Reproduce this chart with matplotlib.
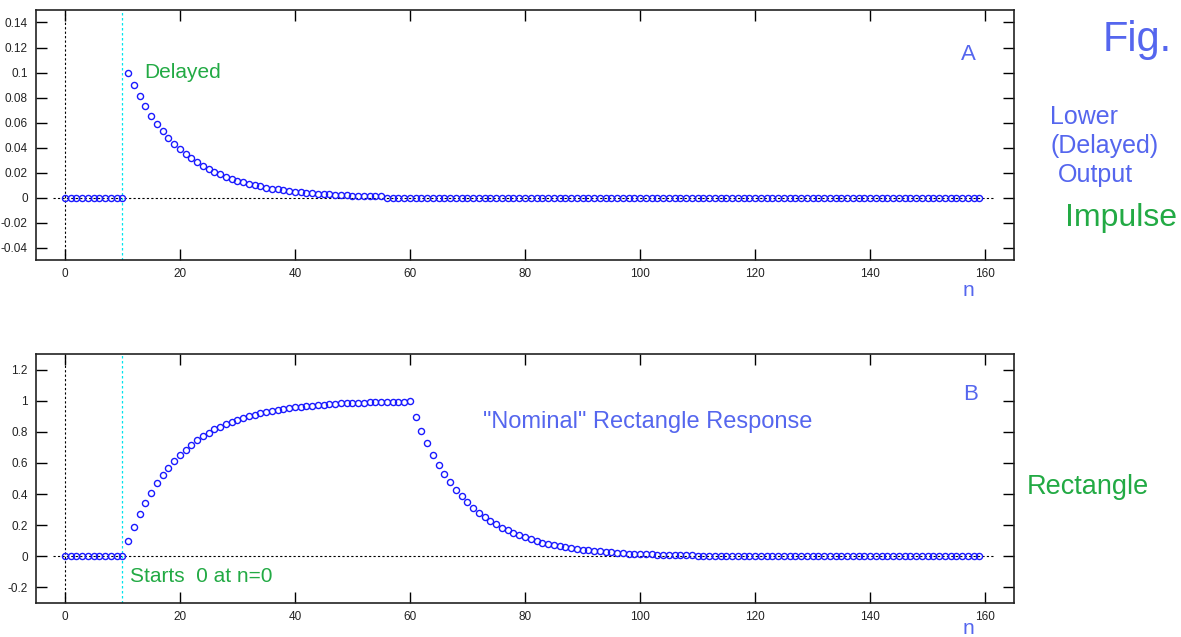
import matplotlib.pyplot as plt
import numpy as np

plt.rcParams['font.family'] = ['Liberation Sans', 'DejaVu Sans']

# sample index
n = np.arange(160)

# A: delayed impulse response (zero until n=10, then decays)
impulse_head = [0.0] * 11
impulse_decay = [0.1, 0.09, 0.081, 0.0729, 0.0656, 0.0590, 0.0531, 0.0478, 0.0430, 0.0387,
                 0.0349, 0.0314, 0.0282, 0.0254, 0.0229, 0.0206, 0.0185, 0.0167, 0.0150, 0.0135,
                 0.0122, 0.0109, 0.0098, 0.0089, 0.0080, 0.0072, 0.0065, 0.0058, 0.0052, 0.0047,
                 0.0042, 0.0038, 0.0034, 0.0031, 0.0028, 0.0025, 0.0023, 0.0020, 0.0018, 0.0016,
                 0.0015, 0.0013, 0.0012, 0.0011, 0.0010]
impulse_tail = [0.0] * 104
impulse = impulse_head + impulse_decay + impulse_tail

# B: delayed rectangle response
rect_head = [0.0] * 11
rect_rise = [0.1, 0.19, 0.271, 0.344, 0.410, 0.469, 0.522, 0.570, 0.613, 0.651,
             0.686, 0.718, 0.746, 0.771, 0.794, 0.815, 0.833, 0.850, 0.865, 0.878,
             0.891, 0.902, 0.911, 0.920, 0.928, 0.935, 0.942, 0.948, 0.953, 0.958,
             0.962, 0.966, 0.969, 0.972, 0.975, 0.977, 0.980, 0.982, 0.984, 0.985,
             0.987, 0.988, 0.989, 0.990, 0.991, 0.992, 0.993, 0.994, 0.994, 0.995]
rect_fall = [0.895, 0.806, 0.725, 0.653, 0.588, 0.529, 0.476, 0.428, 0.385, 0.347,
             0.312, 0.281, 0.253, 0.228, 0.205, 0.184, 0.166, 0.149, 0.134, 0.121,
             0.109, 0.098, 0.088, 0.079, 0.071, 0.064, 0.058, 0.052, 0.047, 0.042,
             0.038, 0.034, 0.031, 0.028, 0.025, 0.022, 0.020, 0.018, 0.016, 0.015,
             0.013, 0.012, 0.011, 0.010, 0.009, 0.008, 0.007, 0.006, 0.006, 0.005,
             0.005, 0.004, 0.004, 0.003, 0.003, 0.003, 0.002, 0.002, 0.002, 0.002]
rect_tail = [0.0] * 39
rect = rect_head + rect_rise + rect_fall + rect_tail

xticks = [0, 20, 40, 60, 80, 100, 120, 140, 160]
yticks_a = [-0.04, -0.02, 0, 0.02, 0.04, 0.06, 0.08, 0.1, 0.12, 0.14]
ytick_labels_a = ['-0.04', '-0.02', '0', '0.02', '0.04', '0.06', '0.08', '0.1', '0.12', '0.14']
yticks_b = [-0.2, 0, 0.2, 0.4, 0.6, 0.8, 1, 1.2]
ytick_labels_b = ['-0.2', '0', '0.2', '0.4', '0.6', '0.8', '1', '1.2']

blue_txt = '#5566ee'
green_txt = '#22aa44'
W, H = 1181, 637

fig = plt.figure(figsize=(11.81, 6.37), dpi=100)
ax_a = fig.add_axes([36 / W, 1 - 260 / H, 978 / W, 250 / H])
ax_b = fig.add_axes([36 / W, 1 - 603 / H, 978 / W, 249 / H])


def style(ax, y, yticks, ylabels, ylim):
    ax.plot([-2, 161.5], [0, 0], color='black', ls=(0, (2, 2)), lw=0.8)
    ax.axvline(0, color='black', ls=(0, (2, 2)), lw=0.8)
    ax.axvline(10, color='#00e5ee', ls=(0, (2, 2)), lw=0.9)
    ax.plot(n, y, 'o', mfc='none', mec='#1a1aff', ms=4.4, mew=1.0)
    ax.set_xlim(-5, 165)
    ax.set_ylim(*ylim)
    ax.set_xticks(xticks)
    ax.set_yticks(yticks)
    ax.set_yticklabels(ylabels)
    ax.tick_params(direction='in', length=8, width=1, top=True, right=True,
                   labelsize=8.5, labelcolor='#222222', pad=6)
    for s in ax.spines.values():
        s.set_linewidth(1.2)
        s.set_color('#222222')


style(ax_a, impulse, yticks_a, ytick_labels_a, (-0.05, 0.15))
style(ax_b, rect, yticks_b, ytick_labels_b, (-0.3, 1.3))

ax_a.text(157, 0.114, 'A', color=blue_txt, fontsize=16, ha='center', va='center')
ax_a.text(13.8, 0.1, 'Delayed', color=green_txt, fontsize=15, ha='left', va='center')
ax_b.text(157.5, 1.04, 'B', color=blue_txt, fontsize=16, ha='center', va='center')
ax_b.text(72.7, 0.866, '"Nominal" Rectangle Response', color=blue_txt, fontsize=17,
          ha='left', va='center')
ax_b.text(11.3, -0.13, 'Starts  0 at n=0', color=green_txt, fontsize=15,
          ha='left', va='center')

fig.text(968 / W, 1 - 290 / H, 'n', color=blue_txt, fontsize=15, ha='center', va='center')
fig.text(968 / W, 1 - 628 / H, 'n', color=blue_txt, fontsize=15, ha='center', va='center')
fig.text(1137 / W, 1 - 40 / H, 'Fig.', color=blue_txt, fontsize=30, ha='center', va='center')
fig.text(1050 / W, 1 - 117 / H, 'Lower', color=blue_txt, fontsize=18, ha='left', va='center')
fig.text(1050 / W, 1 - 146 / H, '(Delayed)', color=blue_txt, fontsize=18, ha='left', va='center')
fig.text(1058 / W, 1 - 175 / H, 'Output', color=blue_txt, fontsize=18, ha='left', va='center')
fig.text(1065 / W, 1 - 218 / H, 'Impulse', color=green_txt, fontsize=23, ha='left', va='center')
fig.text(1027 / W, 1 - 487 / H, 'Rectangle', color=green_txt, fontsize=19.5, ha='left', va='center')

fig.savefig('out.png', dpi=100)
